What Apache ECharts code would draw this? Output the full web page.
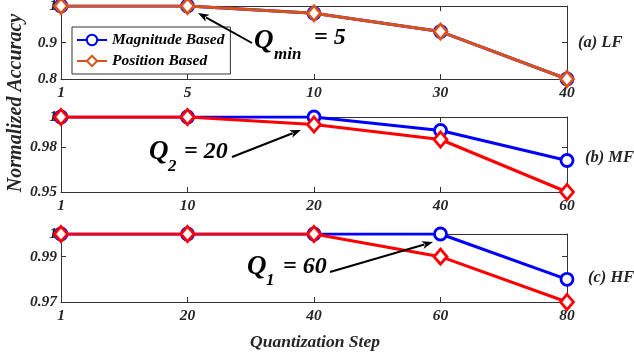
<!DOCTYPE html>
<html>
<head>
<meta charset="utf-8">
<script src="https://cdn.jsdelivr.net/npm/echarts@6/dist/echarts.min.js"></script>
<style>html,body{margin:0;padding:0;background:#fff}#c{width:634px;height:356px}</style>
</head>
<body>
<div id="c"></div>
<script>
// ---- data ----
const catsLF = ['1', '5', '10', '30', '40'];
const magLF = [1, 1, 0.98, 0.93, 0.80];
const posLF = [1, 1, 0.98, 0.93, 0.80];

const catsMF = ['1', '10', '20', '40', '60'];
const magMF = [1, 1, 1, 0.991, 0.971];
const posMF = [1, 1, 0.995, 0.985, 0.95];

const catsHF = ['1', '20', '40', '60', '80'];
const magHF = [1, 1, 1, 1, 0.98];
const posHF = [1, 1, 1, 0.99, 0.97];

const yTicksLF = [0.8, 0.9, 1];
const yTicksMF = [0.95, 0.98, 1];
const yTicksHF = [0.97, 0.99, 1];

const seriesNames = ['Magnitude Based', 'Position Based'];
const panelLabels = ['(a) LF', '(b) MF', '(c) HF'];

// ---- styling ----
const FONT = 'Liberation Serif';
const AX = '#333333';
const BLUE = '#0000FF', RED = '#FF0000', ORANGE = '#D95319';
const txt = (size) => ({fontFamily: FONT, fontWeight: 'bold', fontStyle: 'italic', fontSize: size, color: '#262626'});

const panels = [
  {cats: catsLF, mag: magLF, pos: posLF, ticks: yTicksLF, top: 6, height: 73, posColor: ORANGE, posName: seriesNames[1]},
  {cats: catsMF, mag: magMF, pos: posMF, ticks: yTicksMF, top: 117, height: 75, posColor: RED, posName: 'Position Based (MF)'},
  {cats: catsHF, mag: magHF, pos: posHF, ticks: yTicksHF, top: 234, height: 68, posColor: RED, posName: 'Position Based (HF)'}
];

const grid = [], xAxis = [], yAxis = [], series = [];
const fmt = v => String(Number(v.toFixed(3)));

panels.forEach((p, i) => {
  grid.push({left: 61, right: 67, top: p.top, height: p.height, outerBoundsMode: 'none', containLabel: false});
  const lo = p.ticks[0], hi = p.ticks[p.ticks.length - 1];
  xAxis.push({
    type: 'category', gridIndex: i, data: p.cats, boundaryGap: false, position: 'bottom',
    axisLine: {show: true, lineStyle: {color: AX, width: 1}},
    axisTick: {show: true, inside: true, length: 5, alignWithLabel: true, lineStyle: {color: AX}},
    axisLabel: Object.assign({margin: 6, showMinLabel: true, showMaxLabel: true, interval: 0}, txt(15.5)),
    splitLine: {show: false}
  });
  xAxis.push({
    type: 'category', gridIndex: i, data: p.cats, boundaryGap: false, position: 'top',
    axisLine: {show: true, onZero: false, lineStyle: {color: AX, width: 1}},
    axisTick: {show: true, inside: true, length: 5, lineStyle: {color: AX}},
    axisLabel: {show: false}, splitLine: {show: false}
  });
  yAxis.push({
    type: 'value', gridIndex: i, min: lo, max: hi, position: 'left',
    axisLine: {show: true, lineStyle: {color: AX, width: 1}},
    axisTick: {show: true, inside: true, length: 5, customValues: p.ticks, lineStyle: {color: AX}},
    axisLabel: Object.assign({margin: 4, customValues: p.ticks, formatter: fmt}, txt(15.5)),
    splitLine: {show: false}
  });
  yAxis.push({
    type: 'value', gridIndex: i, min: lo, max: hi, position: 'right',
    axisLine: {show: true, onZero: false, lineStyle: {color: AX, width: 1}},
    axisTick: {show: true, inside: true, length: 5, customValues: p.ticks, lineStyle: {color: AX}},
    axisLabel: {show: false}, splitLine: {show: false}
  });

  series.push({
    name: seriesNames[0], type: 'line', xAxisIndex: 2 * i, yAxisIndex: 2 * i, data: p.mag,
    symbol: 'circle', symbolSize: 12, z: 2,
    lineStyle: {color: BLUE, width: 3},
    itemStyle: {color: '#fff', borderColor: BLUE, borderWidth: 2.8},
    emphasis: {disabled: true}, animation: false
  });
  series.push({
    name: p.posName, type: 'line', xAxisIndex: 2 * i, yAxisIndex: 2 * i, data: p.pos,
    symbol: 'diamond', symbolSize: [13, 15], z: 3,
    lineStyle: {color: p.posColor, width: 3},
    itemStyle: {color: '#fff', borderColor: p.posColor, borderWidth: 2.8},
    emphasis: {disabled: true}, animation: false
  });
});

// ---- annotations ----
function arrow(x1, y1, x2, y2) {
  const ang = Math.atan2(y2 - y1, x2 - x1);
  const L = 11, W = 4;
  const bx = x2 - L * Math.cos(ang), by = y2 - L * Math.sin(ang);
  const px = -Math.sin(ang) * W, py = Math.cos(ang) * W;
  return [
    {type: 'line', shape: {x1: x1, y1: y1, x2: bx + 2 * Math.cos(ang), y2: by + 2 * Math.sin(ang)}, style: {stroke: '#000', lineWidth: 2}, z: 10},
    {type: 'polygon', shape: {points: [[x2, y2], [bx + px, by + py], [bx + 3 * Math.cos(ang), by + 3 * Math.sin(ang)], [bx - px, by - py]]}, style: {fill: '#000'}, z: 10}
  ];
}
function t(str, x, y, size, align, fill) {
  return {
    type: 'text', x: x, y: y, z: 10,
    style: {text: str, font: 'italic bold ' + size + 'px "' + FONT + '"', fill: fill || '#000', textAlign: align || 'left', textVerticalAlign: 'middle'}
  };
}

const graphic = [].concat(
  arrow(252, 43, 198, 13),
  arrow(232, 157, 301, 130),
  arrow(330, 272, 433, 242),
  [
    t('Q', 254, 41, 27), t('min', 274, 55, 17), t('= 5', 314, 38, 24),
    t('Q', 149, 152, 27), t('2', 168, 167, 17), t('= 20', 184, 152, 24),
    t('Q', 247, 267, 27), t('1', 266, 281, 17), t('= 60', 283, 267, 24),
    t(panelLabels[0], 578, 43, 16.5, 'left', '#262626'),
    t(panelLabels[1], 585, 158, 16.5, 'left', '#262626'),
    t(panelLabels[2], 588, 278, 16.5, 'left', '#262626'),
    t('Quantization Step', 315, 342, 17.5, 'center', '#262626'),
    {type: 'text', x: 16, y: 103, rotation: Math.PI / 2, z: 10,
     style: {text: 'Normalized Accuracy', font: 'italic bold 20px "' + FONT + '"', fill: '#262626', textAlign: 'center', textVerticalAlign: 'middle'}}
  ]
);

const chart = echarts.init(document.getElementById('c'), null, {renderer: 'canvas'});
chart.setOption({
  animation: false,
  backgroundColor: '#fff',
  grid: grid, xAxis: xAxis, yAxis: yAxis, series: series,
  legend: {
    data: seriesNames, orient: 'vertical', left: 72, top: 27,
    padding: [5, 6, 5, 4], itemGap: 5, itemWidth: 30, itemHeight: 13,
    borderColor: AX, borderWidth: 1, backgroundColor: '#fff', borderRadius: 0,
    textStyle: Object.assign({}, txt(15.5), {color: '#000'}), selectedMode: false
  },
  graphic: graphic
});
</script>
</body>
</html>
